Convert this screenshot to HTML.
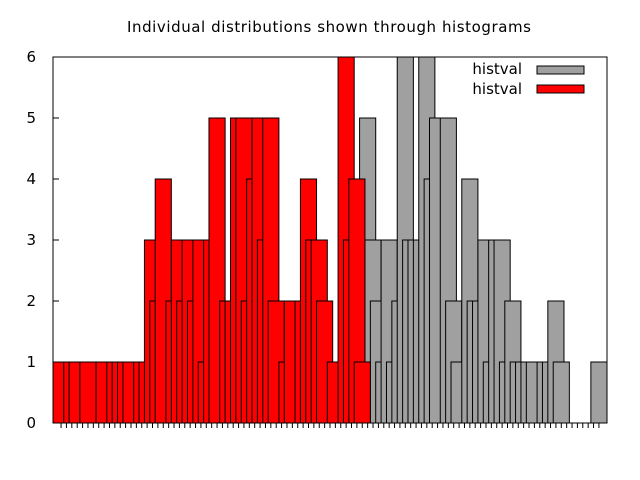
<!DOCTYPE html>
<html><head><meta charset="utf-8"><style>
html,body{margin:0;padding:0;background:#fff;width:640px;height:480px;overflow:hidden}
svg text{font-family:"DejaVu Sans","Liberation Sans",sans-serif;fill:#000}
</style></head><body>
<svg id="chart" width="640" height="480" viewBox="0 0 640 480" xmlns="http://www.w3.org/2000/svg">
<rect x="0" y="0" width="640" height="480" fill="#fff"/>
<text x="329" y="32" font-size="15" text-anchor="middle" textLength="404">Individual distributions shown through histograms</text>
<g id="bars"></g>
<g id="axes"></g>
<g>
<text x="522" y="74" font-size="15" text-anchor="end">histval</text>
<rect x="537" y="66" width="47" height="8" fill="#a0a0a0" stroke="#000" stroke-width="1"/>
<text x="522" y="94" font-size="15" text-anchor="end">histval</text>
<rect x="537" y="85" width="47" height="8" fill="#ff0000" stroke="#000" stroke-width="1"/>
</g>
</svg>
<script>
const greyBins=[57,58,59,60,61,62,63,64,65,66,67,68,69,70,72,73,74,76,77,78,79,80,81,82,83,84,85,86,87,88,90,91,92,93,100];
const greyVals=[5,3,2,1,3,1,2,6,3,3,3,6,4,5,5,2,1,4,2,2,3,1,3,3,1,2,1,1,1,1,1,1,2,1,1];
const redBins=[0,2,3,5,8,10,11,12,13,15,16,17,18,19,21,22,23,24,25,26,27,28,29,31,32,33,34,35,36,37,38,39,40,42,43,45,46,47,48,49,51,53,54,55,56];
const redVals=[1,1,1,1,1,1,1,1,1,1,1,3,2,4,2,3,2,3,2,3,1,3,5,2,2,5,5,2,4,5,3,5,2,1,2,2,4,3,3,2,1,6,3,4,1];
const yTicks=[0,1,2,3,4,5,6];
const L=53,R=607,T=57,B=423,X0=-1.5,X1=101.5,BOXW=3;
const sx=v=>L+(v-X0)/(X1-X0)*(R-L);
const sy=v=>B-v/6*(B-T);
const NS="http://www.w3.org/2000/svg";
const bars=document.getElementById('bars'),axes=document.getElementById('axes');
function drawSeries(bins,vals,color,name){
  for(let k=0;k<bins.length;k++){
    const r=document.createElementNS(NS,'rect');
    const x0=sx(bins[k]-BOXW/2),x1=sx(bins[k]+BOXW/2);
    r.setAttribute('x',x0);r.setAttribute('y',sy(vals[k]));
    r.setAttribute('width',x1-x0);r.setAttribute('height',sy(0)-sy(vals[k]));
    r.setAttribute('fill',color);r.setAttribute('stroke','#000');r.setAttribute('stroke-width','1');
    
    
    bars.appendChild(r);
  }
}
drawSeries(greyBins,greyVals,'#a0a0a0','grey-bar');
drawSeries(redBins,redVals,'#ff0000','red-bar');
const frame=document.createElementNS(NS,'rect');
frame.setAttribute('x',L);frame.setAttribute('y',T);frame.setAttribute('width',R-L);frame.setAttribute('height',B-T);
frame.setAttribute('fill','none');frame.setAttribute('stroke','#000');frame.setAttribute('stroke-width','1');


axes.appendChild(frame);
for(const v of yTicks){
  const t=document.createElementNS(NS,'text');
  t.setAttribute('x',L-17);t.setAttribute('y',sy(v)+5);t.setAttribute('font-size','15');t.setAttribute('text-anchor','end');
  t.textContent=v;
  
  
  axes.appendChild(t);
  const l=document.createElementNS(NS,'line');
  l.setAttribute('x1',L);l.setAttribute('x2',L+6);l.setAttribute('y1',sy(v));l.setAttribute('y2',sy(v));l.setAttribute('stroke','#000');
  
  
  axes.appendChild(l);
}
for(let i=0;i<=100;i++){
  const l=document.createElementNS(NS,'line');
  l.setAttribute('x1',sx(i));l.setAttribute('x2',sx(i));l.setAttribute('y1',B);l.setAttribute('y2',B+5);l.setAttribute('stroke','#000');
  
  
  axes.appendChild(l);
}
</script>
</body></html>
